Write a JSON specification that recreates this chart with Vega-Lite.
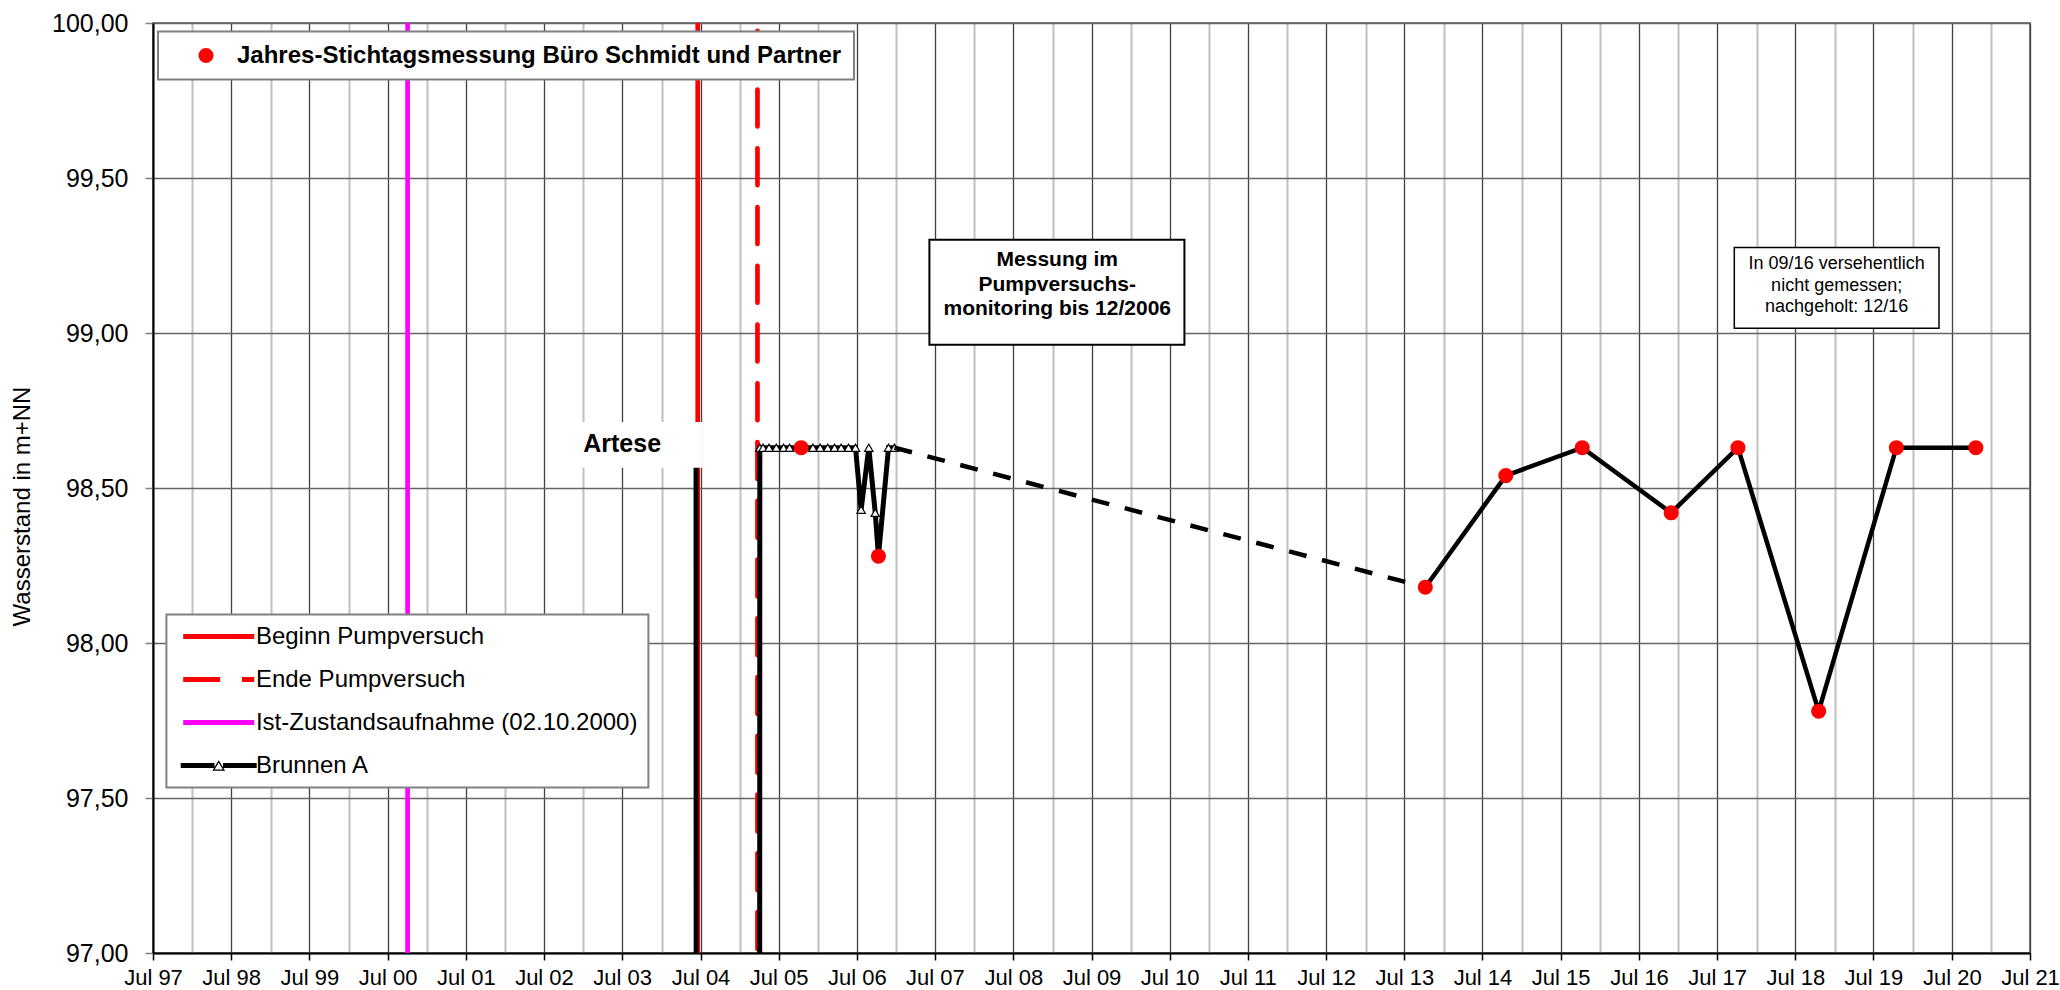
{
  "$schema": "https://vega.github.io/schema/vega-lite/v6.json",
  "width": 1877,
  "height": 930,
  "autosize": {"type": "none"},
  "padding": {"left": 153, "top": 23, "right": 30, "bottom": 37},
  "background": "white",
  "config": {
    "font": "Liberation Sans",
    "view": {"stroke": "#808080", "strokeWidth": 2},
    "axis": {"labelFont": "Liberation Sans", "titleFont": "Liberation Sans", "labelColor": "#000", "titleColor": "#000"},
    "legend": {"labelFont": "Liberation Sans", "labelColor": "#000", "strokeWidth": 2}
  },
  "datasets": {
    "rules": [
      {"date": "2000-10-02", "series": "Ist-Zustandsaufnahme (02.10.2000)"},
      {"date": "2004-06-18", "series": "Beginn Pumpversuch"},
      {"date": "2005-03-24", "series": "Ende Pumpversuch"}
    ],
    "brunnen": [
      {"date": "2004-06-10", "value": 98.63},
      {"date": "2004-06-11", "value": 96.0},
      {"date": "2005-04-03", "value": 96.0},
      {"date": "2005-04-04", "value": 98.63},
      {"date": "2005-04-19", "value": 98.63},
      {"date": "2005-05-17", "value": 98.63},
      {"date": "2005-06-20", "value": 98.63},
      {"date": "2005-07-24", "value": 98.63},
      {"date": "2005-08-21", "value": 98.63},
      {"date": "2005-10-14", "value": 98.63},
      {"date": "2005-12-08", "value": 98.63},
      {"date": "2006-01-11", "value": 98.63},
      {"date": "2006-02-15", "value": 98.63},
      {"date": "2006-03-19", "value": 98.63},
      {"date": "2006-04-19", "value": 98.63},
      {"date": "2006-05-23", "value": 98.63},
      {"date": "2006-06-25", "value": 98.63},
      {"date": "2006-07-21", "value": 98.43},
      {"date": "2006-08-26", "value": 98.63},
      {"date": "2006-09-25", "value": 98.42},
      {"date": "2006-10-10", "value": 98.28},
      {"date": "2006-11-26", "value": 98.63},
      {"date": "2006-12-24", "value": 98.63},
      {"date": "2013-10-07", "value": 98.18},
      {"date": "2014-10-18", "value": 98.54},
      {"date": "2015-10-10", "value": 98.63},
      {"date": "2016-11-28", "value": 98.42},
      {"date": "2017-10-06", "value": 98.63},
      {"date": "2018-10-18", "value": 97.78},
      {"date": "2019-10-16", "value": 98.63},
      {"date": "2020-10-21", "value": 98.63}
    ],
    "stichtag": [
      {"date": "2005-10-14", "value": 98.63},
      {"date": "2006-10-10", "value": 98.28},
      {"date": "2013-10-07", "value": 98.18},
      {"date": "2014-10-18", "value": 98.54},
      {"date": "2015-10-10", "value": 98.63},
      {"date": "2016-11-28", "value": 98.42},
      {"date": "2017-10-06", "value": 98.63},
      {"date": "2018-10-18", "value": 97.78},
      {"date": "2019-10-16", "value": 98.63},
      {"date": "2020-10-21", "value": 98.63}
    ]
  },
  "layer": [
    {
      "data": {"name": "rules"},
      "mark": {"type": "rule", "strokeWidth": 4.7, "strokeCap": "round", "strokeDashOffset": 51, "clip": true},
      "encoding": {
        "x": {
          "field": "date", "type": "temporal",
          "scale": {"type": "utc", "domain": [{"year": 1997, "month": 7, "date": 1, "utc": true}, {"year": 2021, "month": 7, "date": 1, "utc": true}], "nice": false},
          "axis": {
            "title": null,
            "tickCount": {"interval": "month", "step": 6},
            "labelExpr": "utcmonth(datum.value) == 6 ? utcFormat(datum.value, '%b %y') : ''",
            "labelFontSize": 22,
            "labelPadding": 7,
            "labelFlush": false,
            "labelOverlap": false,
            "labelBound": false,
            "tickSize": 7,
            "tickColor": "#000",
            "tickWidth": 1.5,
            "tickOpacity": {"condition": {"test": "utcmonth(datum.value) == 0", "value": 0}, "value": 1},
            "domainColor": "#000",
            "domainWidth": 2,
            "grid": true,
            "gridColor": {"condition": {"test": "utcmonth(datum.value) == 0", "value": "#c0c0c0"}, "value": "#404040"},
            "gridWidth": {"condition": {"test": "utcmonth(datum.value) == 0", "value": 2}, "value": 1.3}
          }
        },
        "color": {
          "field": "series", "type": "nominal",
          "scale": {
            "domain": ["Beginn Pumpversuch", "Ende Pumpversuch", "Ist-Zustandsaufnahme (02.10.2000)", "Brunnen A"],
            "range": ["#ff0000", "#ff0000", "#ff00ff", "#000000"]
          },
          "legend": {
            "title": null,
            "orient": "none",
            "legendX": 13.4,
            "legendY": 591.5,
            "padding": 10,
            "rowPadding": 19,
            "symbolSize": 5041,
            "symbolOffset": 30.3,
            "labelOffset": 25.2,
            "labelFontSize": 24,
            "labelLimit": 1000,
            "strokeColor": "#808080",
            "fillColor": "#ffffff",
            "symbolType": {"expr": "datum.value === 'Brunnen A' ? 'M-1.07,-0.07H-0.12V0.07H-1.07ZM0.12,-0.07H1.07V0.07H0.12ZM0,-0.15L0.18,0.15L-0.18,0.15ZM0,-0.078L-0.117,0.115L0.117,0.115Z' : 'stroke'"},
            "symbolFillColor": {"expr": "datum.value === 'Brunnen A' ? '#000000' : 'transparent'"},
            "symbolStrokeWidth": {"expr": "datum.value === 'Brunnen A' ? 0 : 5"},
            "symbolDash": {"expr": "datum.value === 'Ende Pumpversuch' ? [40, 17] : [1, 0]"}
          }
        },
        "strokeDash": {
          "field": "series", "type": "nominal",
          "scale": {
            "domain": ["Beginn Pumpversuch", "Ende Pumpversuch", "Ist-Zustandsaufnahme (02.10.2000)", "Brunnen A"],
            "range": [[1, 0], [37, 21.75], [1, 0], [1, 0]]
          },
          "legend": null
        }
      }
    },
    {
      "data": {"name": "brunnen"},
      "transform": [{"filter": {"field": "date", "lte": {"year": 2006, "month": 12, "date": 31, "utc": true}}}],
      "mark": {
        "type": "line", "color": "#000000", "strokeWidth": 5, "clip": true,
        "point": {"shape": "triangle-up", "filled": true, "fill": "#ffffff", "stroke": "#000000", "strokeWidth": 1.2, "size": 70}
      },
      "encoding": {
        "x": {"field": "date", "type": "temporal", "scale": {"type": "utc"}},
        "y": {
          "field": "value", "type": "quantitative",
          "scale": {"domain": [97, 100], "nice": false, "zero": false},
          "axis": {
            "title": "Wasserstand in m+NN",
            "values": [97, 97.5, 98, 98.5, 99, 99.5, 100],
            "labelExpr": "replace(format(datum.value, '.2f'), '.', ',')",
            "labelFontSize": 25,
            "labelPadding": 17,
            "labelFlush": false,
            "tickSize": 8,
            "tickColor": "#808080",
            "tickWidth": 1.5,
            "domainColor": "#000",
            "domainWidth": 2,
            "grid": true,
            "gridColor": "#666666",
            "gridWidth": 1.5,
            "titleFontSize": 24,
            "titleFontWeight": "normal",
            "titleX": -131,
            "titleY": 483,
            "titleAngle": 270,
            "titleAlign": "center",
            "titleBaseline": "middle"
          }
        }
      }
    },
    {
      "data": {"name": "brunnen"},
      "transform": [{"filter": {"field": "date", "range": [{"year": 2006, "month": 12, "date": 1, "utc": true}, {"year": 2013, "month": 12, "date": 31, "utc": true}]}}],
      "mark": {"type": "line", "color": "#000000", "strokeWidth": 4.5, "strokeDash": [18, 16], "clip": true},
      "encoding": {
        "x": {"field": "date", "type": "temporal", "scale": {"type": "utc"}},
        "y": {"field": "value", "type": "quantitative"}
      }
    },
    {
      "data": {"name": "brunnen"},
      "transform": [{"filter": {"field": "date", "gte": {"year": 2013, "month": 10, "date": 1, "utc": true}}}],
      "mark": {"type": "line", "color": "#000000", "strokeWidth": 4.5, "clip": true},
      "encoding": {
        "x": {"field": "date", "type": "temporal", "scale": {"type": "utc"}},
        "y": {"field": "value", "type": "quantitative"}
      }
    },
    {
      "data": {"name": "stichtag"},
      "mark": {"type": "point", "shape": "circle", "filled": true, "size": 227, "strokeWidth": 0, "opacity": 1},
      "encoding": {
        "x": {"field": "date", "type": "temporal", "scale": {"type": "utc"}},
        "y": {"field": "value", "type": "quantitative"},
        "fill": {
          "datum": "Jahres-Stichtagsmessung Büro Schmidt und Partner", "type": "nominal",
          "scale": {"range": ["#ff0000"]},
          "legend": {
            "title": null,
            "orient": "none",
            "legendX": 5,
            "legendY": 8.5,
            "padding": 12,
            "symbolSize": 227,
            "symbolOffset": 24,
            "labelOffset": 19,
            "labelFontSize": 24,
            "labelFontWeight": "bold",
            "labelLimit": 1000,
            "labelExpr": "datum.label + '\u00a0\u00a0\u00a0\u00a0'",
            "strokeColor": "#808080",
            "fillColor": "#ffffff",
            "symbolType": "circle",
            "symbolStrokeWidth": 0
          }
        }
      }
    },
    {
      "data": {"values": [{"label": "Artese"}]},
      "layer": [
        {
          "mark": {"type": "rect", "fill": "#ffffff", "strokeWidth": 0},
          "encoding": {
            "x": {"datum": {"year": 2002, "month": 9, "date": 3, "utc": true}, "type": "temporal", "scale": {"type": "utc"}},
            "x2": {"datum": {"year": 2004, "month": 7, "date": 11, "utc": true}},
            "y": {"datum": 98.565, "type": "quantitative"},
            "y2": {"datum": 98.713}
          }
        },
        {
          "mark": {"type": "text", "font": "Liberation Sans", "fontSize": 25, "fontWeight": "bold", "fill": "#000", "align": "center", "baseline": "alphabetic"},
          "encoding": {
            "x": {"datum": {"year": 2003, "month": 7, "date": 1, "utc": true}, "type": "temporal", "scale": {"type": "utc"}},
            "y": {"datum": 98.617, "type": "quantitative"},
            "text": {"field": "label"}
          }
        }
      ]
    },
    {
      "data": {"values": [{"label": "Messung im\nPumpversuchs-\nmonitoring bis 12/2006"}]},
      "layer": [
        {
          "mark": {"type": "rect", "fill": "#ffffff", "stroke": "#000000", "strokeWidth": 2},
          "encoding": {
            "x": {"datum": {"year": 2007, "month": 6, "date": 5, "utc": true}, "type": "temporal", "scale": {"type": "utc"}},
            "x2": {"datum": {"year": 2010, "month": 9, "date": 8, "utc": true}},
            "y": {"datum": 98.962, "type": "quantitative"},
            "y2": {"datum": 99.301}
          }
        },
        {
          "mark": {"type": "text", "font": "Liberation Sans", "fontSize": 21, "fontWeight": "bold", "fill": "#000", "align": "center", "baseline": "alphabetic", "lineBreak": "\n", "lineHeight": 24.5},
          "encoding": {
            "x": {"datum": {"year": 2009, "month": 1, "date": 22, "utc": true}, "type": "temporal", "scale": {"type": "utc"}},
            "y": {"datum": 99.215, "type": "quantitative"},
            "text": {"field": "label"}
          }
        }
      ]
    },
    {
      "data": {"values": [{"label": "In 09/16 versehentlich\nnicht gemessen;\nnachgeholt: 12/16"}]},
      "layer": [
        {
          "mark": {"type": "rect", "fill": "#ffffff", "stroke": "#000000", "strokeWidth": 1.5},
          "encoding": {
            "x": {"datum": {"year": 2017, "month": 9, "date": 19, "utc": true}, "type": "temporal", "scale": {"type": "utc"}},
            "x2": {"datum": {"year": 2020, "month": 5, "date": 2, "utc": true}},
            "y": {"datum": 99.015, "type": "quantitative"},
            "y2": {"datum": 99.276}
          }
        },
        {
          "mark": {"type": "text", "font": "Liberation Sans", "fontSize": 18, "fill": "#000", "align": "center", "baseline": "alphabetic", "lineBreak": "\n", "lineHeight": 21.5},
          "encoding": {
            "x": {"datum": {"year": 2019, "month": 1, "date": 10, "utc": true}, "type": "temporal", "scale": {"type": "utc"}},
            "y": {"datum": 99.205, "type": "quantitative"},
            "text": {"field": "label"}
          }
        }
      ]
    }
  ]
}
